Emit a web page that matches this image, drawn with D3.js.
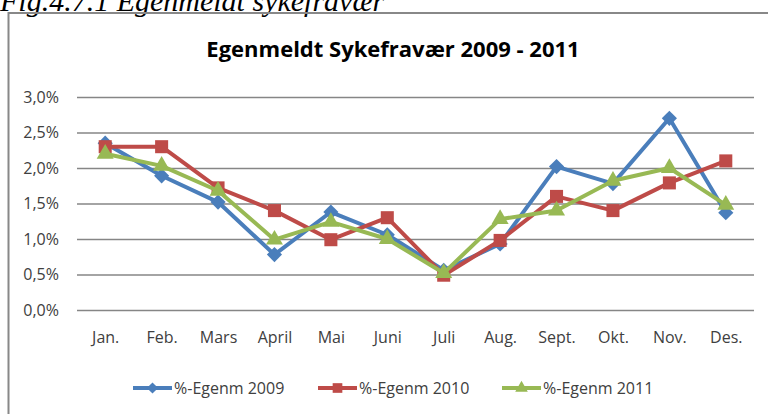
<!DOCTYPE html>
<html lang="no">
<head>
<meta charset="UTF-8">
<title>Egenmeldt Sykefravær 2009 - 2011</title>
<script src="https://d3js.org/d3.v7.min.js"></script>
<style>
    body { margin: 0; padding: 0; background: #fff; }
    svg { display: block; }
    .lbl { font-family: "Open Sans", sans-serif; fill: #404040; }
</style>
</head>
<body>
<div id="chart"></div>
<script>
    // måneder
    const months = ['Jan.', 'Feb.', 'Mars', 'April', 'Mai', 'Juni', 'Juli', 'Aug.', 'Sept.', 'Okt.', 'Nov.', 'Des.'];
    // serienavn
    const seriesNames = ['%-Egenm 2009', '%-Egenm 2010', '%-Egenm 2011'];
    // verdier (andel)
    const egenm2009 = [0.0235, 0.0189, 0.0152, 0.0078, 0.0138, 0.0106, 0.0056, 0.0093, 0.0202, 0.0178, 0.0270, 0.0137];
    const egenm2010 = [0.0230, 0.0230, 0.0172, 0.0140, 0.0099, 0.0130, 0.0049, 0.0098, 0.0160, 0.0140, 0.0179, 0.0210];
    const egenm2011 = [0.0220, 0.0203, 0.0168, 0.0099, 0.0124, 0.0100, 0.0052, 0.0128, 0.0140, 0.0182, 0.0200, 0.0148];
    const yTicks = [0, 0.005, 0.010, 0.015, 0.020, 0.025, 0.030];

    const colors = ['#4A7EBB', '#BE4B48', '#98B954'];
    const allSeries = [egenm2009, egenm2010, egenm2011];

    // markører: ruter (rotert kvadrat), kvadrat, trekant
    const markerType = [d3.symbolSquare, d3.symbolSquare, d3.symbolTriangle];
    const markerSize = [115, 170, 125];
    const markerRot = [45, 0, 0];

    const W = 768, H = 414;
    const plot = { left: 77, right: 754, top: 97, bottom: 310 };

    const svg = d3.select('#chart').append('svg')
        .attr('width', W)
        .attr('height', H);

    // figurtekst øverst (delvis avskåret som i originalen)
    svg.append('text')
        .attr('x', 0)
        .attr('y', 11)
        .attr('font-family', '"Liberation Serif", "Times New Roman", serif')
        .attr('font-style', 'italic')
        .attr('font-size', 30)
        .attr('fill', '#000')
        .text('Fig.4.7.1 Egenmeldt sykefravær');

    // ramme rundt diagrammet
    svg.append('path')
        .attr('d', `M8.5,${H + 2} V13 H${W + 2}`)
        .attr('fill', 'none')
        .attr('stroke', '#888')
        .attr('stroke-width', 2);

    svg.append('text')
        .attr('x', 393)
        .attr('y', 57)
        .attr('text-anchor', 'middle')
        .attr('font-family', '"Open Sans", sans-serif')
        .attr('font-weight', 'bold')
        .attr('font-size', 22)
        .attr('fill', '#000')
        .text('Egenmeldt Sykefravær 2009 - 2011');

    const x = d3.scalePoint()
        .domain(months)
        .range([plot.left, plot.right])
        .padding(0.5);

    const y = d3.scaleLinear()
        .domain([0, 0.03])
        .range([plot.bottom, plot.top]);

    const no = d3.formatLocale({ decimal: ',', thousands: ' ', grouping: [3], currency: ['', ' kr'] });
    const pct = no.format('.1%');

    const yAxis = svg.append('g')
        .attr('transform', `translate(${plot.left},0)`)
        .call(d3.axisLeft(y).tickValues(yTicks).tickFormat(pct)
            .tickSize(-(plot.right - plot.left)).tickPadding(18));
    yAxis.select('.domain').remove();
    yAxis.selectAll('line').attr('stroke', '#868686').attr('stroke-width', 1.5);
    yAxis.selectAll('text').attr('class', 'lbl').attr('font-size', 16);

    const xAxis = svg.append('g')
        .attr('transform', `translate(0,${plot.bottom})`)
        .call(d3.axisBottom(x).tickSize(0).tickPadding(22));
    xAxis.select('.domain').remove();
    xAxis.selectAll('text').attr('class', 'lbl').attr('font-size', 16);

    const line = d3.line()
        .x((d, i) => x(months[i]))
        .y(d => y(d));

    allSeries.forEach((vals, s) => {
        const g = svg.append('g');
        g.append('path')
            .datum(vals)
            .attr('fill', 'none')
            .attr('stroke', colors[s])
            .attr('stroke-width', 4)
            .attr('stroke-linejoin', 'round')
            .attr('d', line);
        g.selectAll('path.m')
            .data(vals)
            .join('path')
            .attr('class', 'm')
            .attr('transform', (d, i) => `translate(${x(months[i])},${y(d)}) rotate(${markerRot[s]})`)
            .attr('d', d3.symbol().type(markerType[s]).size(markerSize[s]))
            .attr('fill', colors[s]);
    });

    // forklaring
    const legendX = [133, 318, 502];
    const legend = svg.append('g').attr('transform', 'translate(0,388)');
    seriesNames.forEach((name, s) => {
        const lg = legend.append('g').attr('transform', `translate(${legendX[s]},0)`);
        lg.append('line')
            .attr('x1', 0).attr('x2', 39)
            .attr('stroke', colors[s]).attr('stroke-width', 4);
        lg.append('path')
            .attr('transform', `translate(19.5,0) rotate(${markerRot[s]})`)
            .attr('d', d3.symbol().type(markerType[s]).size(markerSize[s] * 0.55))
            .attr('fill', colors[s]);
        lg.append('text')
            .attr('class', 'lbl')
            .attr('x', 41)
            .attr('dy', '0.35em')
            .attr('font-size', 16)
            .text(name);
    });
</script>
</body>
</html>
